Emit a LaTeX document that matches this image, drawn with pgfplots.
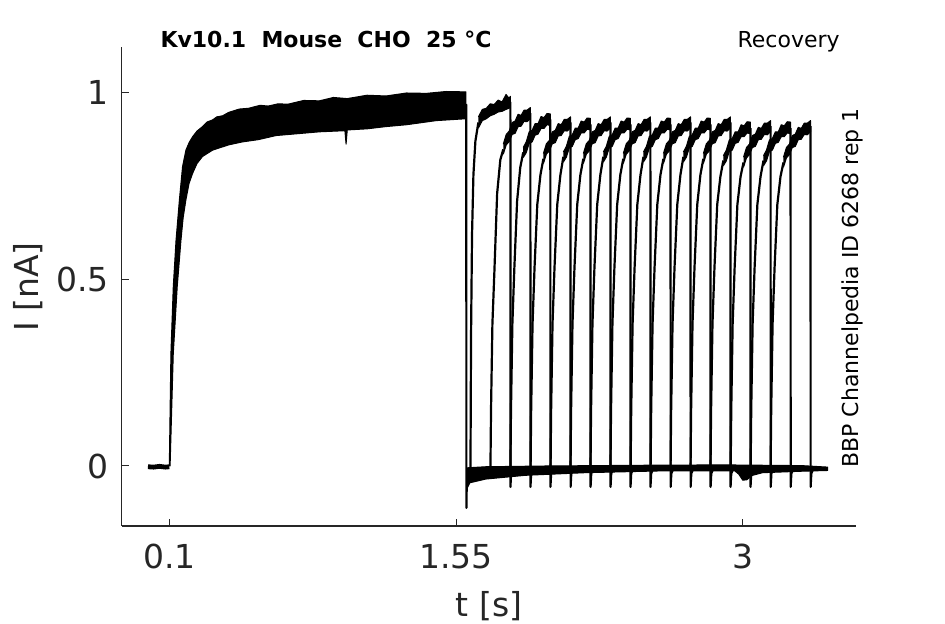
\documentclass[border=0pt]{standalone}
\usepackage{fontspec}
\setmainfont{DejaVu Sans}
\usepackage{pgfplots}
\pgfplotsset{compat=1.18}
\definecolor{axgray}{HTML}{262626}
\pgfplotsset{tr/.style={black, line width=1.1pt, line join=round},
  bd/.style={fill=black, draw=black, line width=0.5pt, line join=round}}
\begin{document}
\begin{tikzpicture}[x=0.5pt,y=0.5pt]
\path[use as bounding box] (0,0) rectangle (945,624);
\begin{axis}[at={(60.85pt,49pt)}, anchor=south west,
  scale only axis, width=367.15pt, height=239.65pt,
  xmin=-0.1408, xmax=3.573, ymin=-0.1607, ymax=1.123,
  axis x line*=bottom, axis y line*=left,
  axis line style={axgray, line width=0.6pt, -},
  xtick={0.1,1.55,3}, xticklabels={0.1,1.55,3},
  ytick={0,0.5,1}, yticklabels={0,0.5,1},
  tick align=inside, major tick length=3.5pt,
  tick style={axgray, line width=0.5pt},
  ticklabel style={font=\fontsize{16.5}{18}\selectfont, text=axgray},
  xticklabel style={yshift=-5.5pt},
  yticklabel style={xshift=-3pt},
]
% baseline before first pulse
\addplot[black, line width=2.4pt] coordinates {(-0.008,-0.002) (0.02,-0.003) (0.05,-0.001) (0.08,-0.003) (0.100,-0.002)};
% first pulse (noise band, all sweeps overlapping)
\addplot[bd] coordinates {
(0.100,0.000) (0.108,0.30) (0.120,0.48) (0.134,0.605) (0.151,0.713) (0.167,0.802) (0.184,0.846)
(0.200,0.866) (0.218,0.882) (0.240,0.897) (0.268,0.909) (0.290,0.921) (0.319,0.927) (0.340,0.935) (0.370,0.938)
(0.400,0.947) (0.454,0.956) (0.500,0.958) (0.560,0.966) (0.600,0.964) (0.650,0.970) (0.700,0.969)
(0.780,0.979) (0.859,0.978) (0.930,0.987) (1.000,0.984) (1.100,0.993) (1.196,0.991) (1.300,0.999) (1.400,0.998) (1.500,1.003) (1.600,1.002)
(1.600,0.930) (1.450,0.925) (1.300,0.914) (1.196,0.909) (1.100,0.903) (1.000,0.900) (0.994,0.862) (0.988,0.898) (0.859,0.895)
(0.750,0.890) (0.640,0.885) (0.550,0.874) (0.470,0.868) (0.400,0.860) (0.319,0.846) (0.268,0.829) (0.240,0.810) (0.218,0.784) (0.200,0.757) (0.184,0.713)
(0.170,0.665) (0.159,0.605) (0.140,0.480) (0.120,0.300) (0.104,0.000) (0.100,0.000)};
% end of first pulse
\addplot[tr] coordinates {(1.601,0.97) (1.602,0.96) (1.6025,-0.112) (1.604,-0.06) (1.607,-0.035) (1.612,-0.025)};
% baseline band after first pulse
\addplot[bd] coordinates {
(1.603,-0.005) (1.700,-0.002) (2.000,0.000) (2.500,0.002) (2.900,0.003) (3.300,0.001) (3.430,-0.003)
(3.430,-0.012) (3.300,-0.014) (3.100,-0.018) (3.050,-0.025) (3.020,-0.037) (3.000,-0.038) (2.980,-0.022)
(2.960,-0.013) (2.600,-0.013) (2.200,-0.018) (1.900,-0.025) (1.700,-0.035) (1.620,-0.045) (1.606,-0.060) (1.603,-0.005)};
% ---- second pulses ----
% k0
\addplot[tr] coordinates {(1.623,-0.02) (1.626,0.35) (1.631,0.62) (1.638,0.78) (1.648,0.87) (1.663,0.92)};
\addplot[bd] coordinates {(1.663,0.935) (1.683,0.955) (1.703,0.958) (1.723,0.970) (1.743,0.968) (1.763,0.980) (1.783,0.975) (1.803,0.995) (1.818,0.985) (1.825,0.990)
 (1.825,0.960) (1.818,0.958) (1.803,0.955) (1.783,0.950) (1.763,0.948) (1.743,0.942) (1.723,0.938) (1.703,0.930) (1.683,0.925) (1.663,0.905)};
\addplot[tr] coordinates {(1.825,0.975) (1.8255,-0.056) (1.828,-0.02) (1.836,-0.01)};
% k1
\addplot[tr] coordinates {(1.724,-0.012) (1.727,0.15) (1.734,0.38) (1.744,0.52) (1.758,0.73) (1.774,0.82) (1.789,0.848)};
\addplot[bd] coordinates {(1.789,0.862) (1.804,0.888) (1.819,0.897) (1.834,0.920) (1.849,0.924) (1.864,0.942) (1.879,0.939) (1.894,0.953) (1.909,0.953) (1.926,0.960)
 (1.926,0.930) (1.909,0.922) (1.894,0.923) (1.879,0.910) (1.864,0.909) (1.849,0.891) (1.834,0.888) (1.819,0.869) (1.804,0.860) (1.789,0.835)};
\addplot[tr] coordinates {(1.926,0.945) (1.9265,-0.056) (1.930,-0.02) (1.938,-0.01)};
% k2
\addplot[tr] coordinates {(1.825,-0.012) (1.828,0.15) (1.835,0.38) (1.845,0.53) (1.859,0.71) (1.875,0.80) (1.890,0.84)};
\addplot[bd] coordinates {(1.890,0.853) (1.905,0.868) (1.920,0.895) (1.935,0.899) (1.950,0.917) (1.965,0.917) (1.980,0.936) (1.995,0.933) (2.010,0.944) (2.027,0.943)
 (2.027,0.912) (2.010,0.914) (1.995,0.904) (1.980,0.904) (1.965,0.889) (1.950,0.886) (1.935,0.868) (1.920,0.864) (1.905,0.839) (1.890,0.826)};
\addplot[tr] coordinates {(2.027,0.928) (2.0275,-0.056) (2.031,-0.02) (2.039,-0.01)};
% k3
\addplot[tr] coordinates {(1.927,-0.012) (1.930,0.15) (1.937,0.38) (1.947,0.53) (1.961,0.70) (1.977,0.78) (1.992,0.823)};
\addplot[bd] coordinates {(1.992,0.837) (2.007,0.863) (2.022,0.872) (2.037,0.895) (2.052,0.899) (2.067,0.917) (2.082,0.914) (2.097,0.928) (2.112,0.928) (2.129,0.935)
 (2.129,0.905) (2.112,0.897) (2.097,0.898) (2.082,0.885) (2.067,0.884) (2.052,0.866) (2.037,0.863) (2.022,0.844) (2.007,0.835) (1.992,0.810)};
\addplot[tr] coordinates {(2.129,0.92) (2.1295,-0.056) (2.133,-0.02) (2.141,-0.01)};
% k4
\addplot[tr] coordinates {(2.028,-0.012) (2.031,0.15) (2.038,0.38) (2.048,0.53) (2.062,0.70) (2.078,0.78) (2.093,0.828)};
\addplot[bd] coordinates {(2.093,0.841) (2.108,0.856) (2.123,0.883) (2.138,0.887) (2.153,0.905) (2.168,0.905) (2.183,0.924) (2.198,0.921) (2.213,0.932) (2.230,0.931)
 (2.230,0.900) (2.213,0.902) (2.198,0.892) (2.183,0.892) (2.168,0.877) (2.153,0.874) (2.138,0.856) (2.123,0.852) (2.108,0.827) (2.093,0.814)};
\addplot[tr] coordinates {(2.230,0.915) (2.2305,-0.056) (2.234,-0.02) (2.242,-0.01)};
% k5
\addplot[tr] coordinates {(2.129,-0.012) (2.132,0.15) (2.139,0.38) (2.149,0.53) (2.163,0.70) (2.179,0.78) (2.194,0.823)};
\addplot[bd] coordinates {(2.194,0.837) (2.209,0.863) (2.224,0.872) (2.239,0.895) (2.254,0.899) (2.269,0.917) (2.284,0.914) (2.299,0.928) (2.314,0.928) (2.331,0.935)
 (2.331,0.905) (2.314,0.897) (2.299,0.898) (2.284,0.885) (2.269,0.884) (2.254,0.866) (2.239,0.863) (2.224,0.844) (2.209,0.835) (2.194,0.810)};
\addplot[tr] coordinates {(2.331,0.92) (2.3315,-0.056) (2.335,-0.02) (2.343,-0.01)};
% k6
\addplot[tr] coordinates {(2.230,-0.012) (2.233,0.15) (2.240,0.38) (2.250,0.53) (2.264,0.70) (2.280,0.78) (2.295,0.828)};
\addplot[bd] coordinates {(2.295,0.841) (2.310,0.856) (2.325,0.883) (2.340,0.887) (2.355,0.905) (2.370,0.905) (2.385,0.924) (2.400,0.921) (2.415,0.932) (2.432,0.931)
 (2.432,0.900) (2.415,0.902) (2.400,0.892) (2.385,0.892) (2.370,0.877) (2.355,0.874) (2.340,0.856) (2.325,0.852) (2.310,0.827) (2.295,0.814)};
\addplot[tr] coordinates {(2.432,0.915) (2.4325,-0.056) (2.436,-0.02) (2.444,-0.01)};
% k7
\addplot[tr] coordinates {(2.331,-0.012) (2.334,0.15) (2.341,0.38) (2.351,0.53) (2.365,0.70) (2.381,0.78) (2.396,0.823)};
\addplot[bd] coordinates {(2.396,0.837) (2.411,0.863) (2.426,0.872) (2.441,0.895) (2.456,0.899) (2.471,0.917) (2.486,0.914) (2.501,0.928) (2.516,0.928) (2.533,0.935)
 (2.533,0.905) (2.516,0.897) (2.501,0.898) (2.486,0.885) (2.471,0.884) (2.456,0.866) (2.441,0.863) (2.426,0.844) (2.411,0.835) (2.396,0.810)};
\addplot[tr] coordinates {(2.533,0.92) (2.5335,-0.056) (2.537,-0.02) (2.545,-0.01)};
% k8
\addplot[tr] coordinates {(2.433,-0.012) (2.436,0.15) (2.443,0.38) (2.453,0.53) (2.467,0.70) (2.483,0.78) (2.498,0.828)};
\addplot[bd] coordinates {(2.498,0.841) (2.513,0.856) (2.528,0.883) (2.543,0.887) (2.558,0.905) (2.573,0.905) (2.588,0.924) (2.603,0.921) (2.618,0.932) (2.635,0.931)
 (2.635,0.900) (2.618,0.902) (2.603,0.892) (2.588,0.892) (2.573,0.877) (2.558,0.874) (2.543,0.856) (2.528,0.852) (2.513,0.827) (2.498,0.814)};
\addplot[tr] coordinates {(2.635,0.915) (2.6355,-0.056) (2.639,-0.02) (2.647,-0.01)};
% k9
\addplot[tr] coordinates {(2.534,-0.012) (2.537,0.15) (2.544,0.38) (2.554,0.53) (2.568,0.70) (2.584,0.78) (2.599,0.823)};
\addplot[bd] coordinates {(2.599,0.837) (2.614,0.863) (2.629,0.872) (2.644,0.895) (2.659,0.899) (2.674,0.917) (2.689,0.914) (2.704,0.928) (2.719,0.928) (2.736,0.935)
 (2.736,0.905) (2.719,0.897) (2.704,0.898) (2.689,0.885) (2.674,0.884) (2.659,0.866) (2.644,0.863) (2.629,0.844) (2.614,0.835) (2.599,0.810)};
\addplot[tr] coordinates {(2.736,0.92) (2.7365,-0.056) (2.740,-0.02) (2.748,-0.01)};
% k10
\addplot[tr] coordinates {(2.635,-0.012) (2.638,0.15) (2.645,0.38) (2.655,0.53) (2.669,0.70) (2.685,0.78) (2.700,0.828)};
\addplot[bd] coordinates {(2.700,0.841) (2.715,0.856) (2.730,0.883) (2.745,0.887) (2.760,0.905) (2.775,0.905) (2.790,0.924) (2.805,0.921) (2.820,0.932) (2.837,0.931)
 (2.837,0.900) (2.820,0.902) (2.805,0.892) (2.790,0.892) (2.775,0.877) (2.760,0.874) (2.745,0.856) (2.730,0.852) (2.715,0.827) (2.700,0.814)};
\addplot[tr] coordinates {(2.837,0.915) (2.8375,-0.056) (2.841,-0.02) (2.849,-0.01)};
% k11
\addplot[tr] coordinates {(2.736,-0.012) (2.739,0.15) (2.746,0.38) (2.756,0.53) (2.770,0.70) (2.786,0.78) (2.801,0.823)};
\addplot[bd] coordinates {(2.801,0.837) (2.816,0.863) (2.831,0.872) (2.846,0.895) (2.861,0.899) (2.876,0.917) (2.891,0.914) (2.906,0.928) (2.921,0.928) (2.938,0.935)
 (2.938,0.905) (2.921,0.897) (2.906,0.898) (2.891,0.885) (2.876,0.884) (2.861,0.866) (2.846,0.863) (2.831,0.844) (2.816,0.835) (2.801,0.810)};
\addplot[tr] coordinates {(2.938,0.92) (2.9385,-0.056) (2.942,-0.02) (2.950,-0.01)};
% k12
\addplot[tr] coordinates {(2.837,-0.012) (2.840,0.15) (2.847,0.38) (2.857,0.53) (2.871,0.70) (2.887,0.775) (2.902,0.818)};
\addplot[bd] coordinates {(2.902,0.831) (2.917,0.846) (2.932,0.873) (2.947,0.877) (2.962,0.895) (2.977,0.895) (2.992,0.914) (3.007,0.911) (3.022,0.922) (3.039,0.921)
 (3.039,0.890) (3.022,0.892) (3.007,0.882) (2.992,0.882) (2.977,0.867) (2.962,0.864) (2.947,0.846) (2.932,0.842) (2.917,0.817) (2.902,0.804)};
\addplot[tr] coordinates {(3.039,0.905) (3.0395,-0.056) (3.043,-0.02) (3.051,-0.01)};
% k13
\addplot[tr] coordinates {(2.939,-0.012) (2.942,0.15) (2.949,0.38) (2.959,0.53) (2.973,0.70) (2.989,0.775) (3.004,0.813)};
\addplot[bd] coordinates {(3.004,0.827) (3.019,0.853) (3.034,0.862) (3.049,0.885) (3.064,0.889) (3.079,0.907) (3.094,0.904) (3.109,0.918) (3.124,0.918) (3.141,0.925)
 (3.141,0.895) (3.124,0.887) (3.109,0.888) (3.094,0.875) (3.079,0.874) (3.064,0.856) (3.049,0.853) (3.034,0.834) (3.019,0.825) (3.004,0.800)};
\addplot[tr] coordinates {(3.141,0.91) (3.1415,-0.056) (3.145,-0.02) (3.153,-0.01)};
% k14
\addplot[tr] coordinates {(3.040,-0.012) (3.043,0.15) (3.050,0.38) (3.060,0.53) (3.074,0.70) (3.090,0.775) (3.105,0.818)};
\addplot[bd] coordinates {(3.105,0.831) (3.120,0.846) (3.135,0.873) (3.150,0.877) (3.165,0.895) (3.180,0.895) (3.195,0.914) (3.210,0.911) (3.225,0.922) (3.242,0.921)
 (3.242,0.890) (3.225,0.892) (3.210,0.882) (3.195,0.882) (3.180,0.867) (3.165,0.864) (3.150,0.846) (3.135,0.842) (3.120,0.817) (3.105,0.804)};
\addplot[tr] coordinates {(3.242,0.905) (3.2425,-0.056) (3.246,-0.02) (3.254,-0.01)};
% k15
\addplot[tr] coordinates {(3.141,-0.012) (3.144,0.15) (3.151,0.38) (3.161,0.53) (3.175,0.70) (3.191,0.775) (3.206,0.813)};
\addplot[bd] coordinates {(3.206,0.827) (3.221,0.853) (3.236,0.862) (3.251,0.885) (3.266,0.889) (3.281,0.907) (3.296,0.904) (3.311,0.918) (3.326,0.918) (3.343,0.925)
 (3.343,0.895) (3.326,0.887) (3.311,0.888) (3.296,0.875) (3.281,0.874) (3.266,0.856) (3.251,0.853) (3.236,0.834) (3.221,0.825) (3.206,0.800)};
\addplot[tr] coordinates {(3.343,0.91) (3.3435,-0.056) (3.347,-0.02) (3.355,-0.01)};
\end{axis}
\node[font=\fontsize{16.5}{18}\selectfont, text=axgray] at (489,18) {t [s]};
\node[font=\fontsize{16.5}{18}\selectfont, text=axgray, rotate=90] at (28.3,337) {I [nA]};
\node[font=\fontsize{11}{13}\selectfont\bfseries, inner sep=0, anchor=base] at (326,576.7) {Kv10.1\ \ Mouse\ \ CHO\ \ 25 °C};
\node[font=\fontsize{11}{13}\selectfont, inner sep=0, anchor=base east] at (840,576.7) {Recovery};
\node[font=\fontsize{11}{13}\selectfont, inner sep=0, anchor=base west, rotate=90] at (858,156) {BBP Channelpedia ID 6268 rep 1};
\end{tikzpicture}
\end{document}
